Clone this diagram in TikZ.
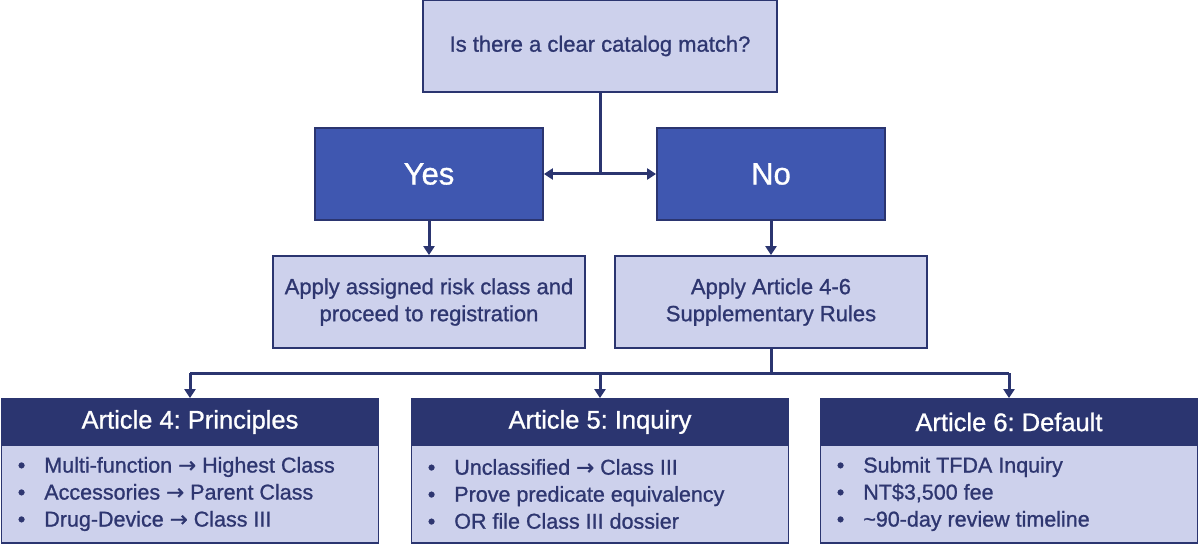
\documentclass[tikz,border=0pt]{standalone}
\usepackage{fontspec}
\setmainfont{Liberation Sans}[RawFeature={embolden=1.0}]
\newfontfamily\arrfont{DejaVu Sans}[RawFeature={embolden=1.0}]
\newcommand{\ra}{{\arrfont →}}
\frenchspacing
\usetikzlibrary{arrows.meta,positioning}
\definecolor{lightfill}{HTML}{CDD1EC}
\definecolor{navy}{HTML}{2B3570}
\definecolor{midblue}{HTML}{3F57B0}
\definecolor{txt}{HTML}{2E3670}
\tikzset{
  lightbox/.style={draw=navy, line width=1.8pt, fill=lightfill, text=txt, align=center, inner sep=0pt},
  darkbox/.style={draw=navy, line width=1.8pt, fill=midblue, text=white, inner sep=0pt},
  headbox/.style={draw=navy, line width=1.8pt, fill=navy, text=white, inner sep=0pt},
  conn/.style={draw=navy, line width=3pt},
  arr/.style={conn, -{Triangle[length=9pt,width=11pt]}},
  bodytxt/.style={text=txt, align=left, anchor=west, inner sep=0pt, font=\fontsize{21.5}{27}\selectfont},
}
\begin{document}
\begin{tikzpicture}[x=1pt,y=-1pt]
\fill[white] (0,0) rectangle (1200,548);
\useasboundingbox (0,0) rectangle (1200,548);
% top
\node[lightbox, minimum width=354pt, minimum height=92pt, font=\fontsize{22}{26}\selectfont] (q) at (600,46) {Is there a clear catalog match?};
\node[darkbox, minimum width=228pt, minimum height=92pt, font=\fontsize{31}{36}\selectfont] (yes) at (429,174) {Yes};
\node[darkbox, minimum width=228pt, minimum height=92pt, font=\fontsize{31}{36}\selectfont] (no) at (771,174) {No};
\node[lightbox, minimum width=312pt, minimum height=92pt, font=\fontsize{22}{27}\selectfont] (assign) at (429,302) {Apply assigned risk class and\\proceed to registration};
\node[lightbox, minimum width=312pt, minimum height=92pt, font=\fontsize{22}{27}\selectfont] (supp) at (771,302) {Apply Article 4-6\\Supplementary Rules};
\coordinate (j1) at (600,174);
\draw[conn] (q.south) -- (j1);
\draw[arr] (j1) -- (yes.east);
\draw[arr] (j1) -- (no.west);
\draw[arr] (yes.south) -- (assign.north);
\draw[arr] (no.south) -- (supp.north);
% articles
\foreach \n/\cx/\title in {a4/190/{Article 4: Principles}, a5/600/{Article 5: Inquiry}, a6/1009/{Article 6: Default}}{
  \node[lightbox, minimum width=377pt, minimum height=98pt] (\n b) at (\cx,494) {};
  \node[headbox, minimum width=377pt, minimum height=46pt, font=\fontsize{25.5}{29}\selectfont] (\n) at (\cx,422) {\title};
}
\node[bodytxt] (a4t) at ([xshift=17pt]a4b.west) {•\hspace{19pt}Multi-function \ra{} Highest Class\\•\hspace{19pt}Accessories \ra{} Parent Class\\•\hspace{19pt}Drug-Device \ra{} Class III};
\node[bodytxt] (a5t) at ([xshift=17pt]a5b.west) {•\hspace{19pt}Unclassified \ra{} Class III\\•\hspace{19pt}Prove predicate equivalency\\•\hspace{19pt}OR file Class III dossier};
\node[bodytxt] (a6t) at ([xshift=17pt]a6b.west) {•\hspace{19pt}Submit TFDA Inquiry\\•\hspace{19pt}NT\$3,500 fee\\•\hspace{19pt}\textasciitilde 90-day review timeline};
\coordinate (j2) at (771,373);
\coordinate (l4) at (190,373);
\coordinate (l6) at (1009,373);
\draw[conn] (supp.south) -- (j2);
\draw[conn] (l4) -- (l6);
\draw[arr] (l4) -- (a4.north);
\draw[arr] (600,373) -- (a5.north);
\draw[arr] (l6) -- (a6.north);
\end{tikzpicture}
\end{document}
